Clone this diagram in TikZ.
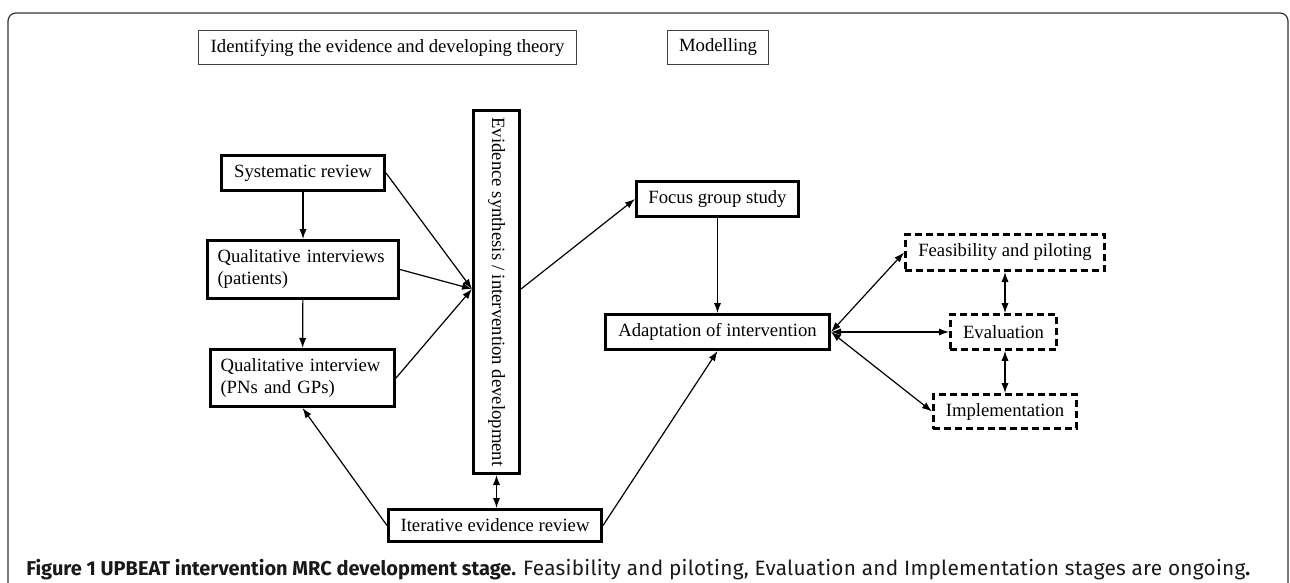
\documentclass[tikz,border=0pt]{standalone}
\usepackage{fontspec}
\usepackage{graphicx}
\setmainfont{Liberation Serif}
\newfontfamily\capfont{Fira Sans}
\usetikzlibrary{arrows.meta}
\tikzset{%
phase/.style={draw=black!75,line width=0.5pt,inner sep=0pt,minimum height=17pt},
stage/.style={draw,line width=1.5pt,inner sep=0pt,minimum height=17.5pt},
twoline/.style={stage,align=left,text width=#1,inner xsep=5pt},
ongoing/.style={stage,line width=1.4pt,dash pattern=on 3.5pt off 2pt},
link/.style={-{Latex[length=5pt,width=3.6pt]},line width=0.6pt},
both/.style={{Latex[length=5pt,width=3.6pt]}-{Latex[length=5pt,width=3.6pt]},line width=0.6pt},
capnode/.style={anchor=base west,inner sep=0pt,text=black!90,font=\capfont\fontsize{10}{12}\selectfont}
}

\begin{document}
\begin{tikzpicture}[x=0.5pt,y=-0.5pt,font=\fontsize{9.35}{11}\selectfont]
    \useasboundingbox (0,0) rectangle (1290,583);
    \draw[line width=0.6pt,black!80,rounded corners=4pt] (8,583) -- (8,13) -- (1288,13) -- (1288,583);

    % stage headings
    \node[phase,minimum width=189pt] (ident) at (387.5,47.5) {Identifying the evidence and developing theory};
    \node[phase,minimum width=50.5pt] (model) at (718,47.5) {Modelling};

    % evidence side
    \node[stage,minimum width=81.5pt] (sysrev) at (303,173) {Systematic review};
    \node[twoline=85.5pt,minimum height=29pt] (qipat) at (303,269.5) {Qualitative interviews\\(patients)};
    \node[twoline=82pt,minimum height=28.5pt] (qipn) at (302.5,378) {Qualitative interview\\(PNs and GPs)};
    \node[stage,minimum width=23pt,minimum height=181.5pt] (evid) at (496.5,292)
        {\rotatebox{-90}{Evidence synthesis / intervention development}};
    \node[stage,minimum width=106.5pt,minimum height=16pt] (iter) at (495,525.5) {Iterative evidence review};
    \coordinate (hub) at ([yshift=1.5pt]evid.west);

    % modelling side
    \node[stage,minimum width=81pt] (focus) at (717.5,199) {Focus group study};
    \node[stage,minimum width=112pt] (adapt) at (717.5,332) {Adaptation of intervention};
    \node[ongoing,minimum width=99.6pt,minimum height=18.1pt] (feas) at (1005,252.5) {Feasibility and piloting};
    \node[ongoing,minimum width=53.1pt] (evalu) at (1003.5,332) {Evaluation};
    \node[ongoing,minimum width=71.6pt,minimum height=17.1pt] (impl) at (1005,411.5) {Implementation};

    \draw[link] (sysrev) -- (qipat);
    \draw[link] (qipat) -- (qipn);
    \draw[link] (sysrev.east) -- (hub);
    \draw[link] (qipat.east) -- (hub);
    \draw[link] (qipn.east) -- (hub);
    \draw[link] ([yshift=1.5pt]evid.east) -- (focus.west);
    \draw[both] (evid.south) -- (iter.north -| evid.south);
    \draw[link] (iter.west) -- (qipn.south);
    \draw[link] (iter.east) -- (adapt.south);
    \draw[link] (focus) -- (adapt);
    \draw[both] (adapt.east) -- (feas.west);
    \draw[both] (adapt.east) -- (evalu.west);
    \draw[both] (adapt.east) -- (impl.west);
    \draw[both] (feas.south) -- (feas.south |- evalu.north);
    \draw[both] (evalu.south -| feas.south) -- (feas.south |- impl.north);

    \node[capnode] (caption) at (26,575) {\textbf{Figure 1 UPBEAT intervention MRC development stage.} {\fontsize{10.4}{12}\selectfont\addfontfeatures{LetterSpace=1.3}Feasibility and piloting, Evaluation and Implementation stages are ongoing}\textbf{.}};
\end{tikzpicture}
\end{document}
